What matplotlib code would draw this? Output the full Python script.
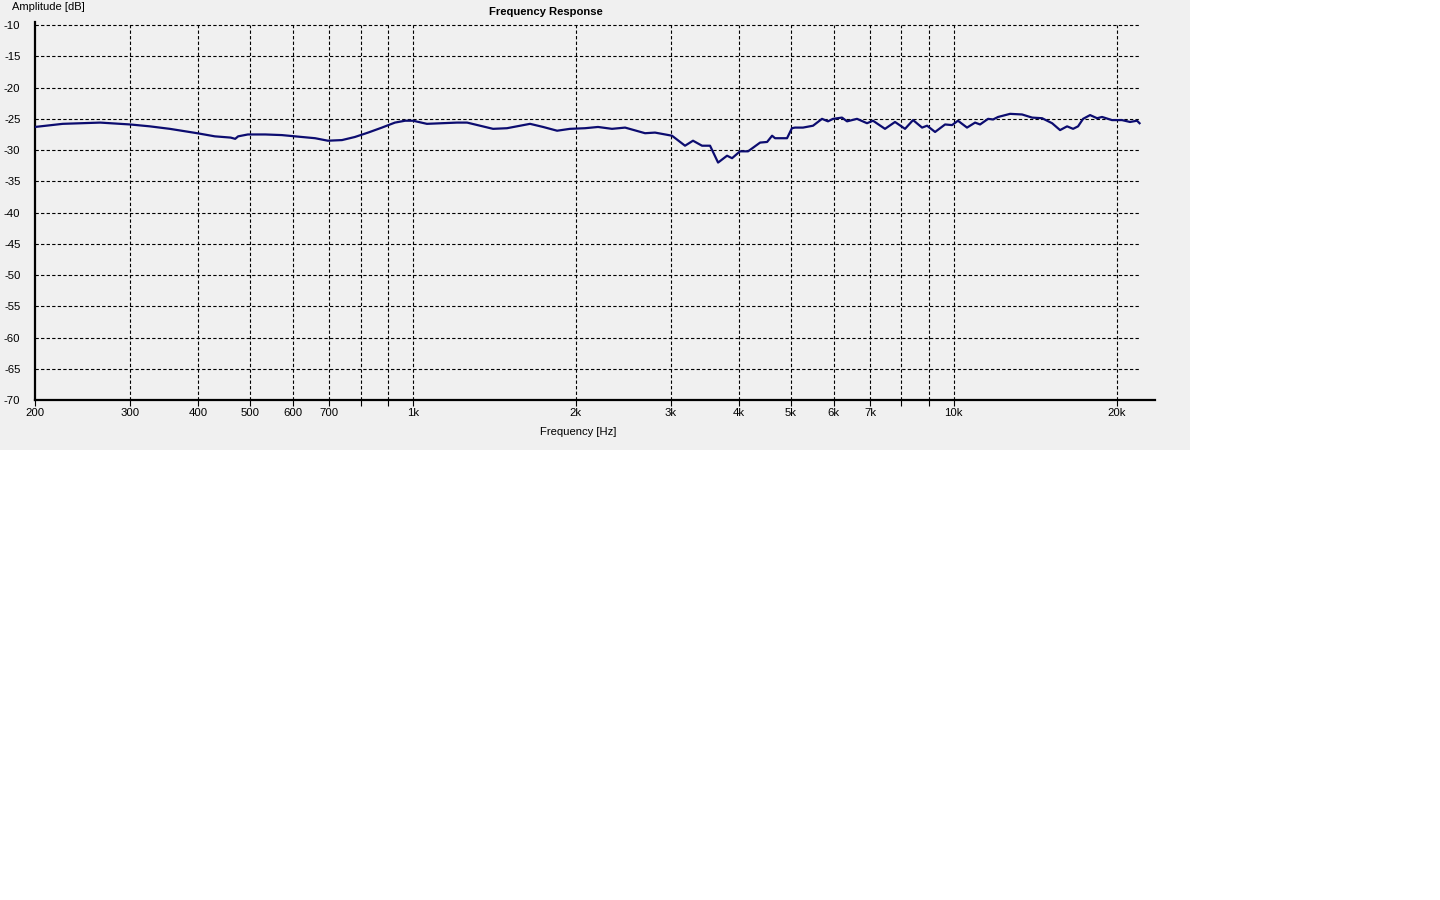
import numpy as np
import matplotlib
matplotlib.use('Agg')
import matplotlib.pyplot as plt
from matplotlib.patches import Rectangle

plt.rcParams['font.family'] = ['Liberation Sans', 'DejaVu Sans']

freq_hz = [200, 225, 264, 300, 326, 355, 399, 430, 460, 469, 475, 495, 533, 572, 605,
           659, 696, 739, 781, 826, 876, 926, 967, 1000, 1061, 1206, 1259, 1406,
           1492, 1646, 1740, 1847, 1951, 2080, 2198, 2333, 2467, 2686, 2802, 3012,
           3184, 3294, 3423, 3542, 3665, 3808, 3890, 4024, 4164, 4383, 4516, 4613,
           4671, 4916, 5019, 5086, 5262, 5491, 5705, 5852, 5979, 6212, 6347, 6622,
           6910, 7088, 7460, 7785, 8124, 8407, 8736, 8924, 9233, 9634, 9925, 10178,
           10578, 10947, 11182, 11570, 11819, 12074, 12706, 13372, 13955, 14563,
           15196, 15720, 16197, 16616, 16972, 17339, 17862, 18404, 18797, 19612,
           20464, 21174, 21812, 22050]
level_db = [-26.3, -25.8, -25.6, -25.9, -26.2, -26.6, -27.3, -27.8, -28.0, -28.2, -27.8,
            -27.5, -27.5, -27.6, -27.8, -28.1, -28.5, -28.4, -27.9, -27.2, -26.4,
            -25.6, -25.3, -25.3, -25.8, -25.6, -25.6, -26.6, -26.5, -25.8, -26.3,
            -26.9, -26.6, -26.5, -26.3, -26.6, -26.4, -27.3, -27.2, -27.7, -29.3,
            -28.5, -29.3, -29.3, -32.0, -30.9, -31.3, -30.2, -30.2, -28.8, -28.7,
            -27.7, -28.1, -28.1, -26.5, -26.4, -26.4, -26.1, -25.0, -25.4, -25.0,
            -24.8, -25.4, -25.0, -25.7, -25.3, -26.6, -25.5, -26.6, -25.2, -26.4,
            -26.1, -27.1, -25.9, -26.0, -25.3, -26.4, -25.6, -25.9, -25.0, -25.1,
            -24.7, -24.2, -24.3, -24.8, -24.9, -25.7, -26.8, -26.2, -26.6, -26.2,
            -25.0, -24.4, -24.9, -24.7, -25.2, -25.2, -25.5, -25.3, -25.7]

x_grid = [300, 400, 500, 600, 700, 800, 900, 1000, 2000, 3000, 4000, 5000,
          6000, 7000, 8000, 9000, 10000, 20000]
x_labels = {200: '200', 300: '300', 400: '400', 500: '500', 600: '600', 700: '700',
            1000: '1k', 2000: '2k', 3000: '3k', 4000: '4k', 5000: '5k', 6000: '6k',
            7000: '7k', 10000: '10k', 20000: '20k'}
y_ticks = list(range(-70, -9, 5))

fig = plt.figure(figsize=(14.4, 9), dpi=100, facecolor='white')
# grey panel behind the chart (top left part only)
fig.patches.append(Rectangle((0, 0.5), 1190 / 1440, 0.5, transform=fig.transFigure,
                             facecolor='#f0f0f0', edgecolor='none', zorder=-10))

ax = fig.add_axes([35 / 1440, 1 - 400 / 900, 1120 / 1440, 378 / 900])
ax.set_facecolor('#f0f0f0')
ax.set_xscale('log')
ax.set_xlim(200, 23550)
ax.set_ylim(-70, -9.5)

# dashed grid, horizontal lines stop at 22.05 kHz
ax.hlines(y_ticks[1:], 200, 22050, colors='black', linestyles=(0, (3, 2)), linewidth=0.8)
ax.vlines(x_grid, -70, -10, colors='black', linestyles=(0, (3, 2)), linewidth=0.8)

ax.plot(freq_hz, level_db, color='#0c0c70', linewidth=1.6, zorder=3)

for s in ['top', 'right']:
    ax.spines[s].set_visible(False)
for s in ['left', 'bottom']:
    ax.spines[s].set_linewidth(1.6)

ax.xaxis.set_minor_locator(matplotlib.ticker.NullLocator())
ax.set_xticks(x_grid + [200])
ax.set_xticklabels([x_labels.get(f, '') for f in x_grid + [200]])
ax.tick_params(axis='x', length=4, width=0.8, pad=2, labelsize=8.2)
ax.set_yticks(y_ticks)
ax.set_yticklabels([str(v) for v in y_ticks])
ax.tick_params(axis='y', length=0, pad=10.5, labelsize=8.2)

fig.text(12 / 1440, 1 - 7 / 900, 'Amplitude [dB]', ha='left', va='center', fontsize=8)
fig.text(546 / 1440, 1 - 12 / 900, 'Frequency Response', ha='center', va='center',
         fontsize=8.1, fontweight='bold')
fig.text(578 / 1440, 1 - 432 / 900, 'Frequency [Hz]', ha='center', va='center', fontsize=8.1)

plt.savefig('out.png', dpi=100, facecolor='white')
